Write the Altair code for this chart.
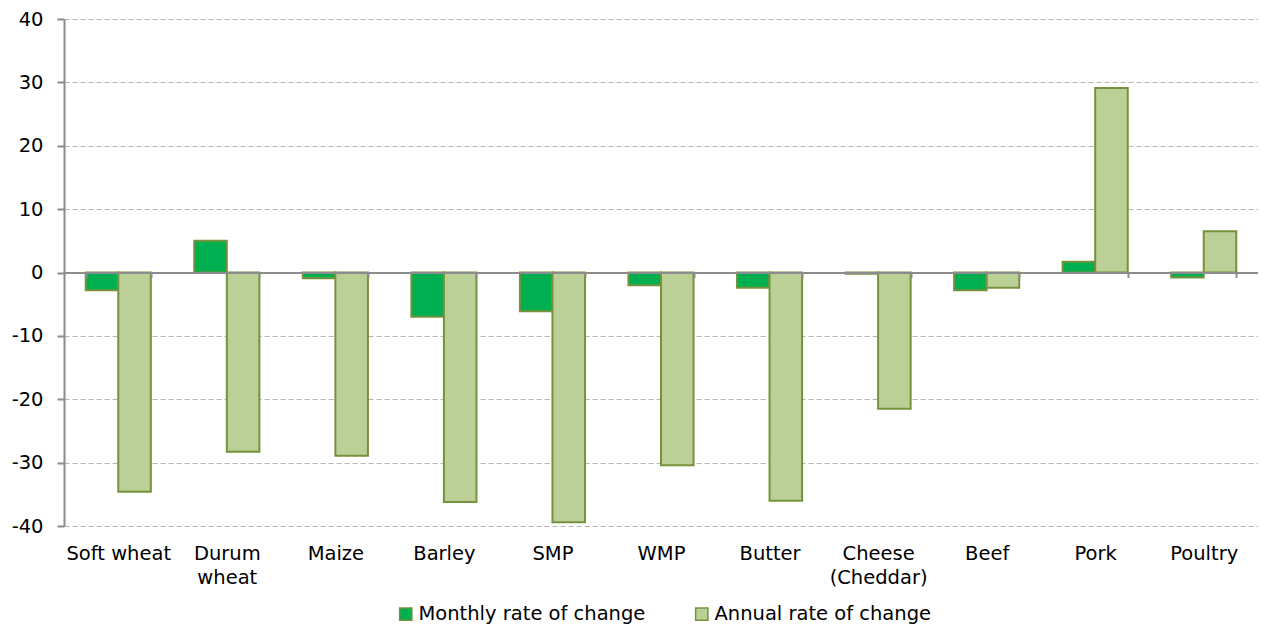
import altair as alt
import pandas as pd

categories = ["Soft wheat", "Durum wheat", "Maize", "Barley", "SMP", "WMP",
              "Butter", "Cheese (Cheddar)", "Beef", "Pork", "Poultry"]
monthly = [-2.8, 5.0, -0.9, -7.0, -6.1, -2.0, -2.4, -0.2, -2.8, 1.7, -0.8]
annual = [-34.6, -28.3, -28.9, -36.2, -39.4, -30.4, -36.0, -21.5, -2.4, 29.1, 6.5]
series = ["Monthly rate of change", "Annual rate of change"]
colors = ["#00B050", "#BBD097"]
y_ticks = [-40, -30, -20, -10, 0, 10, 20, 30, 40]

rows = []
for i, c in enumerate(categories):
    rows.append({"category": c, "series": series[0], "value": monthly[i]})
    rows.append({"category": c, "series": series[1], "value": annual[i]})
df = pd.DataFrame(rows)

FONT = "DejaVu Sans"
FS = 19.5
H = 507
W = 1194

label_expr = ("datum.label == 'Durum wheat' ? ['Durum', 'wheat'] : "
              "datum.label == 'Cheese (Cheddar)' ? ['Cheese', '(Cheddar)'] : datum.label")

chart = alt.Chart(df).mark_bar(stroke="#76923C", strokeWidth=2).encode(
    x=alt.X("category:N", sort=categories, title=None,
            scale=alt.Scale(paddingInner=0.4, paddingOuter=0.2),
            axis=alt.Axis(orient="bottom", offset=-H / 2, labelAngle=0,
                          labelPadding=267, labelExpr=label_expr,
                          labelFont=FONT, labelFontSize=FS, labelColor="#000000",
                          labelLineHeight=24, labelBaseline="top", labelLimit=0,
                          domainColor="#8C8C8C", domainWidth=2,
                          tickColor="#8C8C8C", tickWidth=2, tickSize=5,
                          tickBand="extent", zindex=1, grid=False)),
    xOffset=alt.XOffset("series:N", sort=series),
    y=alt.Y("value:Q", title=None,
            scale=alt.Scale(domain=[-40, 40], nice=False, zero=False),
            axis=alt.Axis(values=y_ticks, labelExpr="'' + datum.value",
                          labelFont=FONT, labelFontSize=FS,
                          labelColor="#000000", labelPadding=14,
                          domainColor="#8C8C8C", domainWidth=2,
                          tickColor="#8C8C8C", tickWidth=2, tickSize=7,
                          gridColor="#B4B4B4", gridDash=[5, 3], gridWidth=1)),
    fill=alt.Fill("series:N", sort=series,
                  scale=alt.Scale(domain=series, range=colors),
                  legend=alt.Legend(title=None, orient="none", direction="horizontal",
                                    legendX=332, legendY=585, padding=0,
                                    symbolType="square", symbolSize=150,
                                    symbolStrokeColor="#76923C", symbolStrokeWidth=1.5,
                                    labelFont=FONT, labelFontSize=19.5, labelColor="#000000",
                                    labelLimit=0, labelOffset=3, columnPadding=46)),
).properties(
    width=W, height=H,
    autosize=alt.AutoSizeParams(type="none"),
    padding={"left": 56, "top": 11, "right": 0, "bottom": 99},
).configure_view(stroke=None)

chart.save("out.html", embed_options={"renderer": "svg", "actions": False})
